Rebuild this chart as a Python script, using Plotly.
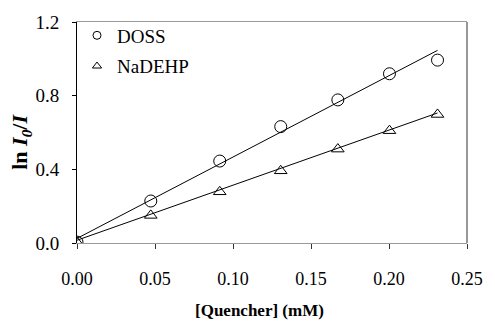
import plotly.graph_objects as go

# Data
quencher = [0.0, 0.0473, 0.0915, 0.1306, 0.1672, 0.2003, 0.2311]
doss = [0.005, 0.228, 0.445, 0.632, 0.777, 0.919, 0.993]
nadehp = [0.003, 0.150, 0.278, 0.392, 0.510, 0.610, 0.698]

fit_x = [0.0, 0.2311]
doss_fit = [0.025, 1.046]
nadehp_fit = [0.015, 0.706]

x_ticks = [0.00, 0.05, 0.10, 0.15, 0.20, 0.25]
y_ticks = [0.0, 0.4, 0.8, 1.2]

FONT = "Liberation Serif"

fig = go.Figure()

# fitted lines
fig.add_trace(go.Scatter(x=fit_x, y=doss_fit, mode="lines",
                         line=dict(color="black", width=1), showlegend=False))
fig.add_trace(go.Scatter(x=fit_x, y=nadehp_fit, mode="lines",
                         line=dict(color="black", width=1), showlegend=False))

# data points
fig.add_trace(go.Scatter(x=quencher, y=doss, mode="markers", showlegend=False,
                         marker=dict(symbol="circle-open", size=12, color="black",
                                     line=dict(width=1, color="black"))))
fig.add_trace(go.Scatter(x=quencher, y=nadehp, mode="markers", showlegend=False,
                         marker=dict(symbol="triangle-up-open", size=11, color="black",
                                     line=dict(width=1, color="black"))))

# legend entries (smaller symbols as in reference)
fig.add_trace(go.Scatter(x=[None], y=[None], mode="markers", name="DOSS",
                         legendgroup="a",
                         marker=dict(symbol="circle-open", size=8, color="black",
                                     line=dict(width=1, color="black"))))
fig.add_trace(go.Scatter(x=[None], y=[None], mode="markers", name="NaDEHP",
                         legendgroup="b",
                         marker=dict(symbol="triangle-up-open", size=8, color="black",
                                     line=dict(width=1, color="black"))))

fig.update_layout(
    width=495, height=323,
    margin=dict(l=77, r=18, t=17, b=80),
    paper_bgcolor="white", plot_bgcolor="white",
    font=dict(family=FONT, color="black", size=18),
    legend=dict(x=0.0, y=1.025, xanchor="left", yanchor="top",
                font=dict(family=FONT, size=19, color="black"),
                bgcolor="rgba(0,0,0,0)", itemwidth=30,
                traceorder="grouped", tracegroupgap=3),
    xaxis=dict(range=[0, 0.25], tickvals=x_ticks,
               ticktext=[f"{v:.2f}" for v in x_ticks],
               showgrid=False, zeroline=False,
               showline=True, linecolor="#999999", linewidth=1, mirror=True,
               ticks="outside", ticklen=5, tickcolor="#333333", tickwidth=1,
               ticklabelstandoff=14,
               tickfont=dict(family=FONT, size=18, color="black")),
    yaxis=dict(range=[0, 1.2], tickvals=y_ticks,
               ticktext=[f"{v:.1f}" for v in y_ticks],
               showgrid=False, zeroline=False,
               showline=True, linecolor="black", linewidth=1,
               ticks="outside", ticklen=4, tickcolor="black", tickwidth=1,
               ticklabelstandoff=9,
               tickfont=dict(family=FONT, size=19, color="black")),
    shapes=[dict(type="line", xref="paper", yref="paper", x0=1, x1=1, y0=0, y1=1,
                 line=dict(color="#333333", width=1))],
    annotations=[
        dict(text="<b>[Quencher] (mM)</b>", xref="paper", yref="paper",
             x=0.467, y=-0.305, xanchor="center", yanchor="middle",
             showarrow=False, font=dict(family=FONT, size=17, color="black")),
        dict(text="<b>ln <i>I</i><sub><i>0</i></sub>/<i>I</i></b>", xref="paper", yref="paper",
             x=-0.1425, y=0.46, xanchor="center", yanchor="middle", textangle=-90,
             showarrow=False, font=dict(family=FONT, size=22, color="black")),
    ],
)

fig.write_html("out.html")
